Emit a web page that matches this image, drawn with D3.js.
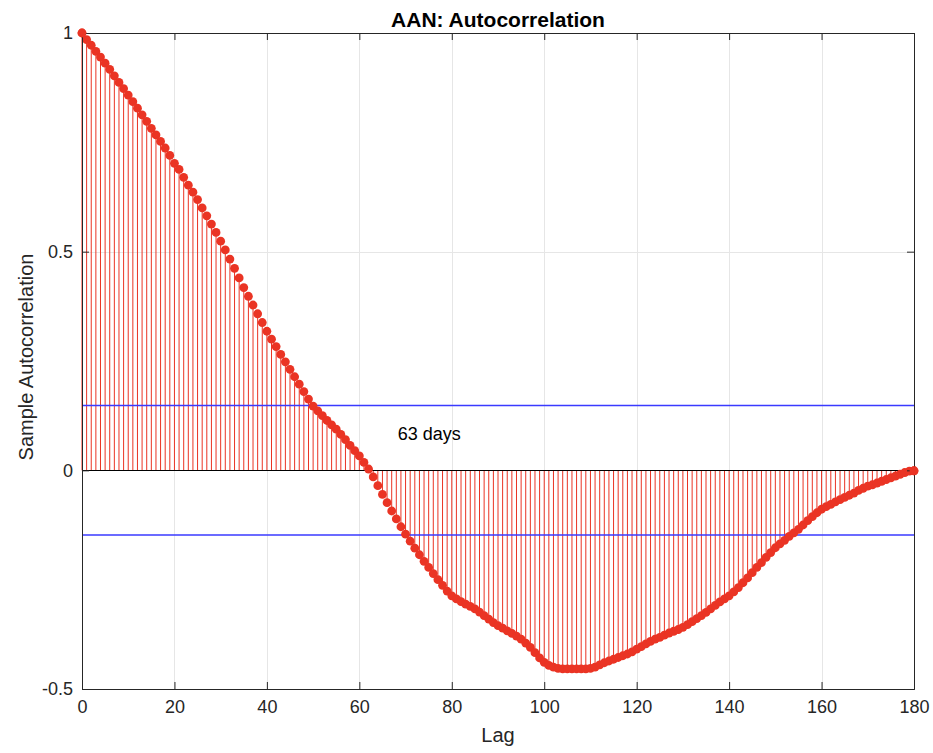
<!DOCTYPE html>
<html><head><meta charset="utf-8">
<script src="https://cdn.jsdelivr.net/npm/d3@7"></script>
<style>body{margin:0;background:#fff;font-family:"Liberation Sans",Helvetica,Arial,sans-serif;}</style>
</head><body><svg id="c" width="933" height="753"></svg>
<script>
const acf = [1.000,0.985,0.972,0.958,0.945,0.931,0.917,0.902,0.887,0.873,
0.858,0.843,0.828,0.813,0.798,0.782,0.767,0.752,0.737,0.720,
0.702,0.688,0.670,0.652,0.636,0.619,0.600,0.582,0.563,0.544,
0.524,0.504,0.483,0.462,0.440,0.418,0.398,0.378,0.358,0.338,
0.318,0.300,0.283,0.265,0.248,0.231,0.214,0.197,0.180,0.163,
0.147,0.136,0.125,0.114,0.104,0.094,0.082,0.070,0.057,0.045,
0.033,0.018,0.003,-0.015,-0.035,-0.055,-0.074,-0.093,-0.111,-0.129,
-0.146,-0.162,-0.178,-0.193,-0.208,-0.222,-0.236,-0.250,-0.263,-0.276,
-0.287,-0.294,-0.300,-0.306,-0.311,-0.317,-0.324,-0.332,-0.340,-0.348,
-0.355,-0.361,-0.367,-0.373,-0.379,-0.386,-0.395,-0.405,-0.417,-0.429,
-0.439,-0.446,-0.450,-0.453,-0.454,-0.454,-0.454,-0.454,-0.454,-0.454,
-0.453,-0.450,-0.445,-0.440,-0.436,-0.432,-0.428,-0.424,-0.420,-0.415,
-0.409,-0.403,-0.397,-0.391,-0.386,-0.382,-0.377,-0.372,-0.368,-0.364,
-0.359,-0.353,-0.346,-0.339,-0.332,-0.325,-0.317,-0.309,-0.301,-0.294,
-0.287,-0.278,-0.268,-0.257,-0.246,-0.234,-0.222,-0.211,-0.199,-0.188,
-0.177,-0.168,-0.160,-0.151,-0.143,-0.135,-0.125,-0.115,-0.106,-0.097,
-0.089,-0.083,-0.078,-0.072,-0.067,-0.062,-0.057,-0.052,-0.046,-0.041,
-0.036,-0.033,-0.029,-0.025,-0.021,-0.017,-0.013,-0.009,-0.005,-0.002,
-0.001];
const lags = acf.map((d,i)=>i);
const xTicks = [0,20,40,60,80,100,120,140,160,180];
const yTicks = [-0.5,0,0.5,1];
const yTickLabels = ["-0.5","0","0.5","1"];
const bounds = [0.148,-0.148];
const titleText = "AAN: Autocorrelation";
const xLabel = "Lag", yLabel = "Sample Autocorrelation";
const annotation = {lag:68.3, value:0.083, text:"63 days"};

const svg = d3.select("#c");
const L=82,R=914,T=33,B=689;
const x = d3.scaleLinear().domain([0,180]).range([L,R]);
const y = d3.scaleLinear().domain([-0.5,1]).range([B,T]);
const red="#ea3424", axisCol="#262626", font="'Liberation Sans',Helvetica,Arial,sans-serif";
const snap = v => Math.round(v)+0.5;

// grid
svg.append("g").selectAll("line").data(xTicks.slice(1,-1)).join("line")
 .attr("x1",d=>snap(x(d))).attr("x2",d=>snap(x(d))).attr("y1",T).attr("y2",B)
 .attr("stroke","#e6e6e6").attr("stroke-width",1);
svg.append("g").selectAll("line").data(yTicks.slice(1,-1)).join("line")
 .attr("y1",d=>snap(y(d))).attr("y2",d=>snap(y(d))).attr("x1",L).attr("x2",R)
 .attr("stroke","#e6e6e6").attr("stroke-width",1);

// stems
svg.append("g").selectAll("line").data(lags).join("line")
 .attr("x1",d=>x(d)).attr("x2",d=>x(d)).attr("y1",y(0)).attr("y2",d=>y(acf[d]))
 .attr("stroke",red).attr("stroke-width",1);
// baseline
svg.append("line").attr("x1",L).attr("x2",R).attr("y1",snap(y(0))).attr("y2",snap(y(0)))
 .attr("stroke","#000").attr("stroke-width",1);
// bounds
svg.append("g").selectAll("line").data(bounds).join("line")
 .attr("x1",L).attr("x2",R).attr("y1",d=>y(d)).attr("y2",d=>y(d))
 .attr("stroke","#3a3aff").attr("stroke-width",1.5);
// markers
svg.append("g").selectAll("circle").data(lags).join("circle")
 .attr("cx",d=>x(d)).attr("cy",d=>y(acf[d])).attr("r",4.4).attr("fill",red);

// axes
const xa = svg.append("g").attr("transform",`translate(0,${B})`)
 .call(d3.axisBottom(x).tickValues(xTicks).tickSize(-7).tickPadding(11).tickFormat(d3.format("d")));
const xt = svg.append("g").attr("transform",`translate(0,${T})`)
 .call(d3.axisTop(x).tickValues(xTicks).tickSize(-7).tickFormat(""));
const ya = svg.append("g").attr("transform",`translate(${L},0)`)
 .call(d3.axisLeft(y).tickValues(yTicks).tickSize(-7).tickPadding(9).tickFormat((d,i)=>yTickLabels[i]));
const yr = svg.append("g").attr("transform",`translate(${R},0)`)
 .call(d3.axisRight(y).tickValues(yTicks).tickSize(-7).tickFormat(""));
[xa,xt,ya,yr].forEach(g=>{
  g.select(".domain").attr("stroke",axisCol).attr("stroke-width",1);
  g.selectAll(".tick line").attr("stroke",axisCol);
  g.selectAll("text").attr("fill",axisCol).style("font-size","18px").style("font-family",font);
});
svg.append("circle").attr("cx",x(0)).attr("cy",y(acf[0])).attr("r",4.4).attr("fill",red);
svg.append("circle").attr("cx",x(180)).attr("cy",y(acf[180])).attr("r",4.4).attr("fill",red);

svg.append("text").attr("x",(L+R)/2).attr("y",27).attr("text-anchor","middle")
 .style("font-weight","bold").style("font-size","21px").style("font-family",font).attr("fill","#000").text(titleText);
svg.append("text").attr("x",(L+R)/2).attr("y",742).attr("text-anchor","middle")
 .style("font-size","20px").style("font-family",font).attr("fill",axisCol).text(xLabel);
svg.append("text").attr("transform",`translate(33,${(T+B)/2-4}) rotate(-90)`).attr("text-anchor","middle")
 .style("font-size","20px").style("font-family",font).attr("fill",axisCol).text(yLabel);
svg.append("text").attr("x",x(annotation.lag)).attr("y",y(annotation.value)).attr("dy","0.35em")
 .style("font-size","18px").style("font-family",font).attr("fill","#000").text(annotation.text);
</script></body></html>
